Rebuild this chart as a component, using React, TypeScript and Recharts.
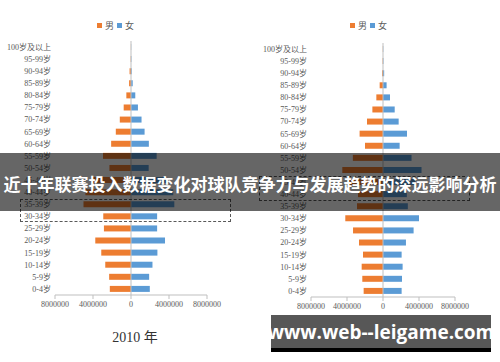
import React from "react";
import { BarChart, Bar, XAxis, YAxis, ReferenceLine } from "recharts";

const ageGroups = [
  "100岁及以上", "95-99岁", "90-94岁", "85-89岁", "80-84岁", "75-79岁", "70-74岁",
  "65-69岁", "60-64岁", "55-59岁", "50-54岁", "45-49岁", "40-44岁", "35-39岁",
  "30-34岁", "25-29岁", "20-24岁", "15-19岁", "10-14岁", "5-9岁", "0-4岁",
];

const male2010 = [
  10000, 30000, 150000, 200000, 490000, 770000, 1180000, 1600000, 2090000, 2950000, 2270000,
  4000000, 4800000, 5000000, 2920000, 2850000, 3760000, 3130000, 2710000, 2300000, 2230000,
];
const female2010 = [
  20000, 40000, 80000, 180000, 450000, 730000, 1110000, 1430000, 1880000, 2700000, 1860000,
  3800000, 4450000, 4560000, 2750000, 2750000, 3580000, 2780000, 2260000, 1910000, 1980000,
];

const male2020 = [
  20000, 40000, 100000, 370000, 740000, 1180000, 1780000, 2600000, 2000000, 3350000, 4520000,
  3800000, 2780000, 2890000, 4190000, 3330000, 2670000, 2220000, 2370000, 2300000, 2150000,
];
const female2020 = [
  30000, 50000, 130000, 400000, 780000, 1300000, 1740000, 2670000, 1850000, 3170000, 4280000,
  3600000, 2650000, 2760000, 4000000, 3400000, 2550000, 2070000, 2180000, 2110000, 2070000,
];

const xTicks = [-8000000, -4000000, 0, 4000000, 8000000];

const MALE = "#ED7D31";
const FEMALE = "#5B9BD5";
const AXIS = "#bfbfbf";
const TEXT = "#595959";
const SERIF = '"Liberation Serif", "Noto Sans CJK SC", serif';

const buildRows = (male: number[], female: number[]) =>
  ageGroups.map((age, i) => ({ age, male: -male[i], female: female[i] }));

function Pyramid({ male, female, top, yWidth, right }: { male: number[]; female: number[]; top: number; yWidth: number; right: number }) {
  const data = buildRows(male, female);
  return (
    <BarChart
      width={250}
      height={362}
      data={data}
      layout="vertical"
      stackOffset="sign"
      barSize={6}
      margin={{ top, right, left: 0, bottom: 362 - top - 254 - 30 }}
    >
      <XAxis
        type="number"
        domain={[-8000000, 8000000]}
        ticks={xTicks}
        height={30}
        tickSize={4}
        stroke={AXIS}
        tick={{ fontSize: 8, fill: TEXT, fontFamily: SERIF }}
        tickFormatter={(v) => String(Math.abs(v))}
      />
      <YAxis
        type="category"
        dataKey="age"
        width={yWidth}
        axisLine={false}
        tickLine={false}
        tickSize={0}
        tickMargin={4}
        interval={0}
        tick={{ fontSize: 8, fill: TEXT, fontFamily: SERIF }}
      />
      <Bar dataKey="male" name="男" stackId="a" fill={MALE} isAnimationActive={false} />
      <Bar dataKey="female" name="女" stackId="a" fill={FEMALE} isAnimationActive={false} />
      <ReferenceLine x={0} stroke={AXIS} />
    </BarChart>
  );
}

function LegendBox({ left }: { left: number }) {
  return (
    <div style={{ position: "absolute", left, top: 19, display: "flex", alignItems: "center", gap: 3, fontSize: 9, color: TEXT, fontFamily: SERIF }}>
      <span style={{ width: 5, height: 5, background: MALE, display: "inline-block" }} />
      <span>男</span>
      <span style={{ width: 5, height: 5, background: FEMALE, display: "inline-block" }} />
      <span>女</span>
    </div>
  );
}

export default function App() {
  return (
    <div style={{ position: "absolute", left: 0, top: 0, width: 500, height: 362, background: "#fff", overflow: "hidden" }}>
      <div style={{ position: "absolute", left: 0, top: 0 }}>
        <Pyramid male={male2010} female={female2010} top={41} yWidth={55} right={43} />
      </div>
      <div style={{ position: "absolute", left: 250, top: 0 }}>
        <Pyramid male={male2020} female={female2020} top={43} yWidth={61} right={45} />
      </div>

      <LegendBox left={97} />
      <LegendBox left={350} />

      <div style={{ position: "absolute", left: 85, width: 100, top: 326, textAlign: "center", fontSize: 14, color: "#333", fontFamily: SERIF }}>2010 年</div>
      <div style={{ position: "absolute", left: 333, width: 100, top: 322, textAlign: "center", fontSize: 14, color: "#333", fontFamily: SERIF }}>2020 年</div>

      {/* dashed highlight boxes */}
      <div style={{ position: "absolute", left: 20, top: 199, width: 211, height: 23, border: "1px dashed #595959", boxSizing: "border-box" }} />
      <div style={{ position: "absolute", left: 259, top: 176, width: 211, height: 25, border: "1px dashed #595959", boxSizing: "border-box" }} />

      {/* title banner */}
      <div style={{ position: "absolute", left: 0, top: 153, width: 500, height: 58, background: "rgba(0,0,0,0.6)", display: "flex", alignItems: "center", justifyContent: "center" }}>
        <span style={{ color: "#fff", fontWeight: 700, fontSize: 17, fontFamily: '"Noto Sans CJK SC", sans-serif', whiteSpace: "nowrap", marginTop: 2 }}>
          近十年联赛投入数据变化对球队竞争力与发展趋势的深远影响分析
        </span>
      </div>

      {/* watermark */}
      <div style={{ position: "absolute", left: 271, top: 315, width: 220, height: 37, background: "#575757", borderBottom: "4px solid #000", boxSizing: "border-box", display: "flex", alignItems: "center", justifyContent: "center" }}>
        <span style={{ color: "#fff", fontWeight: 700, fontSize: 19, fontFamily: '"Open Sans", "DejaVu Sans", sans-serif', whiteSpace: "nowrap" }}>
          www.web--leigame.com
        </span>
      </div>
    </div>
  );
}
